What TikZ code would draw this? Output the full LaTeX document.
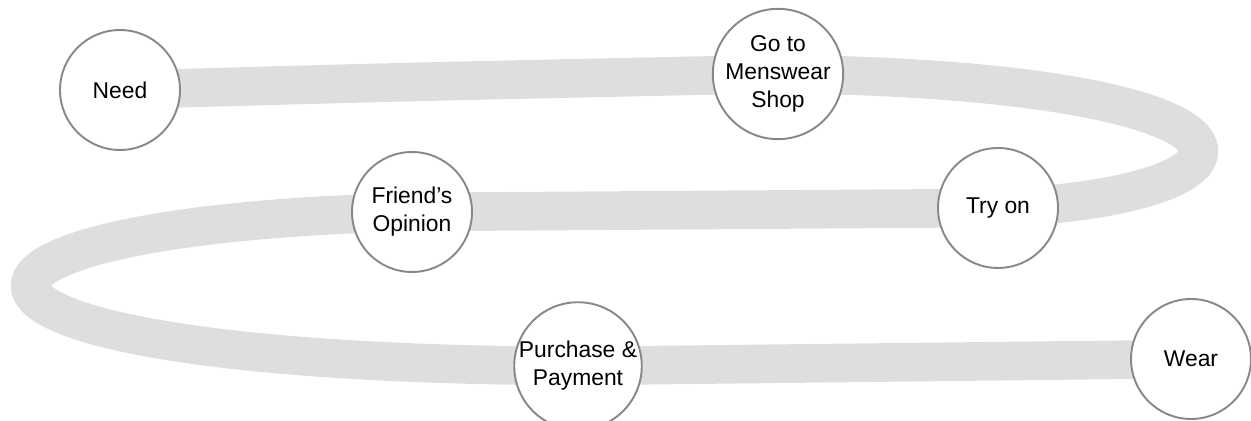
\documentclass[tikz,border=0pt]{standalone}
\usepackage{fontspec}
\setmainfont{Liberation Sans}
\usepackage{tikz}
\usetikzlibrary{backgrounds}
\definecolor{bandfill}{RGB}{222,222,222}
\definecolor{circleborder}{RGB}{136,136,136}
\tikzset{
  stepnode/.style={
    circle, fill=white, draw=circleborder, line width=1.1pt,
    minimum size=2.4cm, inner sep=0pt, align=center,
    font=\fontsize{13}{16}\selectfont},
  band/.style={draw=bandfill, line width=22pt}
}
\begin{document}
\begin{tikzpicture}[x=0.02cm, y=-0.02cm]
  \useasboundingbox (0,0) rectangle (1251,421);

  %% Steps of the journey
  \node[stepnode] (need)     at (120,90)  {Need};
  \node[stepnode] (goto)     at (778,74)  {Go to\\Menswear\\Shop};
  \node[stepnode] (tryon)    at (998,208) {Try on};
  \node[stepnode] (friend)   at (412,212) {Friend’s\\Opinion};
  \node[stepnode] (purchase) at (578,366) {Purchase \&\\Payment};
  \node[stepnode] (wear)     at (1191,359) {Wear};

  %% Winding band behind the steps
  \begin{scope}[on background layer]
    \draw[band] (need.center) .. controls (400,82) .. (goto.center)
      .. controls (1295,80) and (1295,195) .. (tryon.center)
      -- (friend.center)
      .. controls (-122,225) and (-122,364) .. (purchase.center)
      -- (wear.center);
  \end{scope}

\end{tikzpicture}
\end{document}
